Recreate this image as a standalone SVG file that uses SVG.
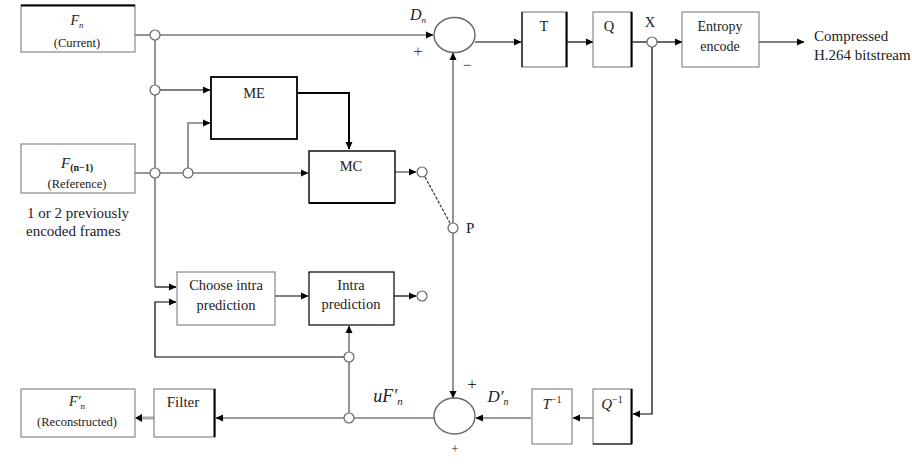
<svg xmlns="http://www.w3.org/2000/svg" width="912" height="466" viewBox="0 0 912 466">
<style>
.box{fill:#fff;stroke:#707070;stroke-width:1}
.t{font-family:"Liberation Serif","Times New Roman",serif;fill:#222;text-anchor:middle}
.s{font-size:12.5px}
.m{font-size:14.5px}
.l{font-size:15px;text-anchor:start}
.i{font-style:italic}
.g{fill:none;stroke:#7a7a7a;stroke-width:1.6}
.b{fill:none;stroke:#000;stroke-width:1.2}
.j{fill:#fff;stroke:#666;stroke-width:1.2}
</style>
<defs>
<marker id="a" markerWidth="8" markerHeight="8" refX="7" refY="4" orient="auto" markerUnits="userSpaceOnUse">
<path d="M0,0.5 L7.5,4 L0,7.5 Z" fill="#000"/>
</marker>
</defs>
<rect width="912" height="466" fill="#fff"/>

<g id="connectors">
<path class="g" d="M135,35 H150"/>
<path class="g" d="M160,35 H433" marker-end="url(#a)"/>
<path class="g" d="M155,40 V85 M155,95 V168 M155,178 V287"/>
<path class="b" d="M155,287 H176" marker-end="url(#a)"/>
<path class="b" d="M160,90 H210" marker-end="url(#a)"/>
<path class="g" d="M135,173 H150 M160,173 H183"/>
<path class="g" d="M193,173 H308" marker-end="url(#a)"/>
<path class="g" d="M188,168 V123 H210" marker-end="url(#a)"/>
<path class="b" style="stroke-width:2" d="M297,93 H349 V149" marker-end="url(#a)"/>
<path class="g" d="M395,172 H416" marker-end="url(#a)"/>
<path fill="none" stroke="#333" stroke-width="1.2" stroke-dasharray="3,1.5" d="M425,177 L450,223"/>
<path class="g" d="M453,223 V53" marker-end="url(#a)"/>
<path class="g" d="M453,233 V398" marker-end="url(#a)"/>
<path class="b" d="M475,42 H521" marker-end="url(#a)"/>
<path class="b" d="M567,42 H593" marker-end="url(#a)"/>
<path class="b" d="M632,42 H647"/>
<path class="b" d="M657,42 H682" marker-end="url(#a)"/>
<path class="b" d="M759,42 H804" marker-end="url(#a)"/>
<path class="b" d="M652,47 V414 H633" marker-end="url(#a)"/>
<path class="g" d="M593,418 H573" marker-end="url(#a)"/>
<path class="g" d="M531,418 H476" marker-end="url(#a)"/>
<path class="g" d="M434,418 H354"/>
<path class="g" d="M344,418 H216" marker-end="url(#a)"/>
<path fill="none" stroke="#aaa" stroke-width="3" d="M154,418 H138"/>
<path d="M142,414 L135,418 L142,422 Z" fill="#000"/>
<path class="g" d="M349,413 V362"/>
<path class="g" d="M349,352 V326" marker-end="url(#a)"/>
<path class="b" d="M344,357 H155 V302 H176" marker-end="url(#a)"/>
<path class="b" d="M275,296 H308" marker-end="url(#a)"/>
<path class="b" d="M394,296 H416" marker-end="url(#a)"/>
</g>

<g id="junctions">
<circle class="j" cx="155" cy="35" r="5"/>
<circle class="j" cx="155" cy="90" r="5"/>
<circle class="j" cx="155" cy="173" r="5"/>
<circle class="j" cx="188" cy="173" r="5"/>
<circle class="j" cx="422" cy="172" r="5"/>
<circle class="j" cx="453" cy="228" r="5"/>
<circle class="j" cx="652" cy="42" r="5"/>
<circle class="j" cx="422" cy="296" r="5"/>
<circle class="j" cx="349" cy="357" r="5"/>
<circle class="j" cx="349" cy="418" r="5"/>
</g>

<g id="Fn">
<rect class="box" x="21" y="5" width="114" height="47"/>
<line x1="21" y1="5.5" x2="135" y2="5.5" stroke="#000" stroke-width="2"/>
<text class="t i" x="77" y="25" font-size="14">F<tspan font-size="9" dy="3">n</tspan></text>
<text class="t s" x="77" y="47">(Current)</text>
</g>

<g id="Fn1">
<rect class="box" x="21" y="144" width="114" height="49"/>
<text class="t i" x="77" y="168" font-size="15">F<tspan font-size="10" font-style="normal" font-weight="bold" dy="3">(n−1)</tspan></text>
<text class="t s" x="77" y="188">(Reference)</text>
</g>
<text class="t l" x="27" y="218" font-size="14.5">1 or 2 previously</text>
<text class="t l" x="26" y="236" font-size="14.5">encoded frames</text>

<g id="ME">
<rect x="211" y="77" width="86" height="62" fill="#fff" stroke="#000" stroke-width="1.8"/>
<text class="t m" x="254" y="98">ME</text>
</g>

<g id="MC">
<rect x="309" y="151" width="86" height="52" fill="#fff" stroke="#000" stroke-width="1.4"/>
<line x1="309" y1="203" x2="395" y2="203" stroke="#000" stroke-width="2"/>
<text class="t m" x="351" y="171">MC</text>
</g>
<text class="t" x="466" y="233" font-size="15" style="text-anchor:start">P</text>

<g id="sumTop">
<ellipse cx="454.5" cy="35" rx="20.5" ry="17.5" fill="#fff" stroke="#666" stroke-width="1.4"/>
<text class="t i" x="418" y="20" font-size="16">D<tspan font-size="9" dy="3">n</tspan></text>
<text class="t" x="418" y="57" font-size="16" style="fill:#6a1a6a">+</text>
<text class="t" x="467" y="70" font-size="15">−</text>
</g>

<g id="T">
<rect class="box" x="522" y="12" width="45" height="55"/>
<line x1="522" y1="12" x2="522" y2="67" stroke="#000" stroke-width="1.2"/>
<line x1="566.5" y1="12" x2="566.5" y2="67" stroke="#000" stroke-width="2"/>
<text class="t m" x="544" y="31">T</text>
</g>

<g id="Q">
<rect class="box" x="593" y="12" width="39" height="55"/>
<line x1="631.5" y1="12" x2="631.5" y2="67" stroke="#000" stroke-width="2"/>
<text class="t m" x="609" y="31">Q</text>
</g>
<text class="t m" x="650" y="27">X</text>

<g id="Entropy">
<rect class="box" x="682" y="12" width="77" height="55"/>
<text class="t" x="720" y="31" font-size="14">Entropy</text>
<text class="t" x="720" y="51" font-size="14">encode</text>
</g>
<text class="t l" x="814" y="41">Compressed</text>
<text class="t l" x="814" y="60">H.264 bitstream</text>

<g id="Choose">
<rect class="box" x="177" y="272" width="98" height="53"/>
<text class="t" x="226" y="290" font-size="14.5">Choose intra</text>
<text class="t" x="226" y="310" font-size="14.5">prediction</text>
</g>

<g id="Intra">
<rect x="309" y="272" width="85" height="53" fill="#fff" stroke="#000" stroke-width="1.2"/>
<text class="t" x="351" y="290" font-size="14.5">Intra</text>
<text class="t" x="351" y="309" font-size="14.5">prediction</text>
</g>

<g id="sumBot">
<ellipse cx="454.5" cy="416" rx="20.5" ry="18" fill="#fff" stroke="#666" stroke-width="1.4"/>
<text class="t" x="472" y="390" font-size="16">+</text>
<text class="t" x="455" y="453" font-size="13">+</text>
<text class="t i" x="498" y="402" font-size="17">D′<tspan font-size="10" dy="3">n</tspan></text>
<text class="t i" x="388" y="402" font-size="18">uF′<tspan font-size="11" dy="3">n</tspan></text>
</g>

<g id="Tinv">
<rect class="box" x="532" y="389" width="40" height="55"/>
<text class="t i" x="552" y="409" font-size="15">T<tspan font-size="10" font-style="normal" dy="-6">−1</tspan></text>
</g>

<g id="Qinv">
<rect class="box" x="593" y="389" width="39" height="55"/>
<line x1="631.5" y1="389" x2="631.5" y2="444" stroke="#000" stroke-width="2"/>
<line x1="593" y1="444" x2="632" y2="444" stroke="#000" stroke-width="1.2"/>
<text class="t i" x="612" y="409" font-size="15">Q<tspan font-size="10" font-style="normal" dy="-6">−1</tspan></text>
</g>

<g id="Filter">
<rect class="box" x="154" y="389" width="61" height="48"/>
<line x1="214.5" y1="389" x2="214.5" y2="437" stroke="#000" stroke-width="2"/>
<text class="t" x="183" y="407" font-size="15">Filter</text>
</g>

<g id="Fnr">
<rect class="box" x="21" y="389" width="114" height="48"/>
<text class="t i" x="77" y="406" font-size="14">F′<tspan font-size="9" font-style="normal" dy="3">n</tspan></text>
<text class="t s" x="77" y="426" font-size="13">(Reconstructed)</text>
</g>
</svg>
